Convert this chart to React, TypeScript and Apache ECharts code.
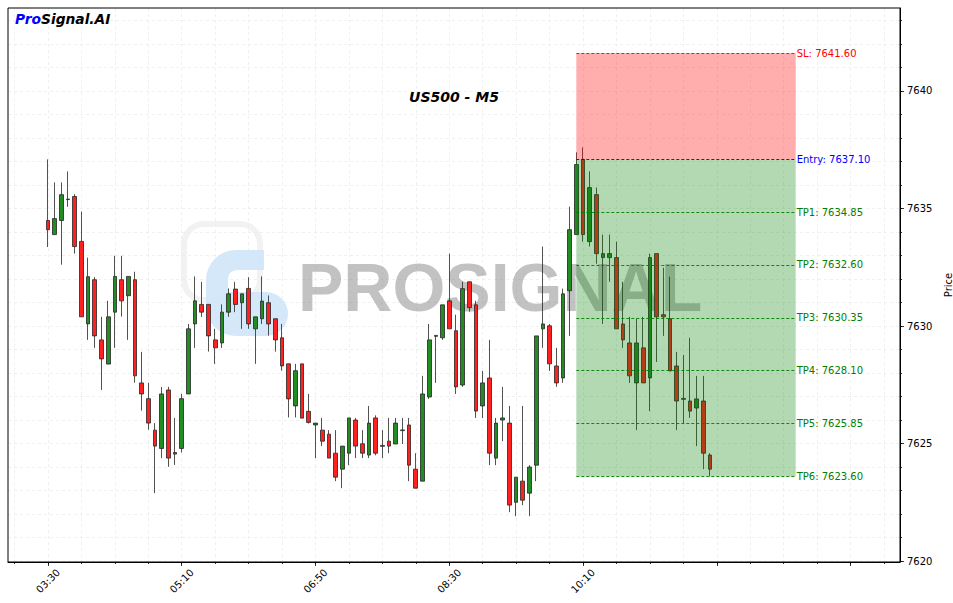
import React, { useEffect, useRef } from 'react';
import * as echarts from 'echarts';

// ---- data ----
const opens = [
  7634.49, 7633.89, 7634.49, 7635.40, 7635.51, 7633.60, 7630.09, 7631.97, 7629.41, 7628.38,
  7630.59, 7631.97, 7631.29, 7631.97, 7627.58, 7626.91, 7625.57, 7624.79, 7627.28, 7624.55,
  7624.79, 7627.11, 7630.09, 7630.92, 7630.92, 7629.41, 7629.28, 7630.59, 7631.57, 7630.99,
  7631.60, 7629.88, 7630.31, 7630.99, 7630.31, 7629.50, 7628.39, 7626.60, 7628.39, 7626.37,
  7625.79, 7625.57, 7625.40, 7624.59, 7623.91, 7624.59, 7626.00, 7624.99, 7624.51, 7626.09,
  7624.92, 7625.10, 7624.98, 7625.55, 7625.79, 7623.91, 7623.40, 7626.98, 7629.56, 7629.50,
  7631.07, 7629.80, 7627.49, 7631.88, 7630.90, 7626.60, 7627.79, 7624.38, 7626.00, 7625.87,
  7622.50, 7623.40, 7622.89, 7624.08, 7629.88, 7630.01, 7628.30, 7627.79, 7631.50, 7633.89,
  7637.09, 7633.59, 7635.59, 7632.91, 7632.91, 7632.91, 7630.09, 7629.28, 7627.58, 7629.07,
  7627.79, 7633.08, 7630.48, 7630.31, 7628.30, 7626.92, 7626.81, 7626.51, 7626.81, 7624.51,
];
const closes = [
  7634.10, 7634.57, 7635.59, 7635.38, 7633.38, 7630.39, 7632.10, 7629.58, 7628.60, 7630.39,
  7632.11, 7631.07, 7632.11, 7627.88, 7627.11, 7625.87, 7624.89, 7627.11, 7624.38, 7624.62,
  7626.91, 7629.88, 7631.07, 7630.59, 7629.58, 7629.07, 7630.59, 7631.37, 7630.92, 7631.37,
  7630.09, 7630.39, 7631.06, 7630.09, 7629.41, 7628.30, 7626.90, 7628.10, 7626.08, 7625.90,
  7625.87, 7625.10, 7624.38, 7623.57, 7624.89, 7626.09, 7624.89, 7624.59, 7625.87, 7624.59,
  7624.88, 7624.89, 7625.87, 7625.58, 7624.08, 7623.10, 7627.11, 7629.41, 7629.60, 7630.90,
  7629.88, 7627.41, 7631.59, 7630.78, 7626.38, 7627.58, 7624.59, 7625.87, 7626.09, 7622.38,
  7623.57, 7622.59, 7624.00, 7629.58, 7630.09, 7628.39, 7627.58, 7631.37, 7634.10, 7636.87,
  7633.89, 7635.89, 7633.08, 7633.08, 7633.08, 7629.88, 7629.41, 7627.88, 7629.28, 7627.58,
  7632.91, 7630.39, 7630.39, 7628.09, 7626.81, 7626.88, 7626.38, 7626.90, 7624.59, 7623.91,
];
const lows = [
  7633.36, 7633.89, 7632.61, 7635.07, 7633.08, 7630.39, 7629.41, 7629.07, 7627.28, 7628.38,
  7629.07, 7630.40, 7629.41, 7627.59, 7626.40, 7625.59, 7622.89, 7624.38, 7624.01, 7624.09,
  7624.62, 7627.11, 7629.07, 7630.39, 7628.91, 7628.39, 7629.07, 7630.39, 7630.59, 7629.88,
  7629.88, 7628.39, 7630.09, 7629.59, 7628.91, 7628.10, 7626.11, 7626.11, 7626.08, 7625.85,
  7624.38, 7624.89, 7624.38, 7623.40, 7623.10, 7624.08, 7624.38, 7624.38, 7624.38, 7624.50,
  7624.38, 7624.59, 7624.98, 7624.98, 7623.40, 7623.10, 7623.40, 7626.90, 7627.58, 7629.41,
  7629.88, 7627.11, 7627.41, 7630.61, 7626.09, 7626.09, 7624.08, 7624.08, 7625.10, 7622.08,
  7621.91, 7622.38, 7621.91, 7623.40, 7629.07, 7628.09, 7627.41, 7627.58, 7629.58, 7633.89,
  7633.59, 7633.38, 7632.65, 7630.09, 7631.88, 7629.88, 7629.07, 7627.58, 7625.57, 7627.58,
  7626.38, 7628.47, 7629.58, 7628.09, 7625.57, 7625.87, 7626.09, 7624.89, 7623.91, 7623.61,
];
const highs = [
  7637.09, 7636.11, 7636.11, 7636.58, 7635.61, 7634.87, 7632.91, 7632.08, 7630.39, 7631.07,
  7632.99, 7632.99, 7632.11, 7632.31, 7628.90, 7627.58, 7625.87, 7627.41, 7627.41, 7626.09,
  7627.11, 7630.09, 7632.11, 7631.88, 7630.92, 7629.88, 7630.92, 7631.60, 7631.88, 7631.37,
  7632.08, 7630.39, 7632.11, 7631.30, 7630.31, 7630.09, 7628.39, 7628.39, 7628.39, 7627.11,
  7625.87, 7626.09, 7625.57, 7625.57, 7624.89, 7626.09, 7626.09, 7625.57, 7626.60, 7626.20,
  7625.57, 7626.09, 7626.09, 7626.09, 7626.09, 7624.59, 7627.88, 7630.09, 7629.60, 7630.90,
  7633.08, 7630.48, 7631.88, 7631.88, 7631.07, 7628.09, 7629.41, 7626.09, 7627.41, 7626.60,
  7623.57, 7626.60, 7624.08, 7629.58, 7633.38, 7630.09, 7629.07, 7631.59, 7635.08, 7637.39,
  7637.60, 7636.58, 7635.89, 7633.89, 7633.89, 7633.59, 7631.88, 7630.39, 7630.31, 7630.39,
  7633.08, 7633.08, 7632.48, 7632.10, 7628.90, 7628.77, 7629.50, 7627.88, 7627.88, 7624.59,
];

const xLabelIdx = [0, 20, 40, 60, 80];
const xLabels = ['03:30', '05:10', '06:50', '08:30', '10:10'];
const yLabels = [7620, 7625, 7630, 7635, 7640];

const levelNames = ['SL', 'Entry', 'TP1', 'TP2', 'TP3', 'TP4', 'TP5', 'TP6'];
const levelValues = [7641.6, 7637.1, 7634.85, 7632.6, 7630.35, 7628.1, 7625.85, 7623.6];
const zoneStart = 79;
const zoneEnd = 111.8;

// ---- axis ranges ----
const X_MIN = -5.98;
const X_MAX = 127.4;
const Y_MIN = 7619.96;
const Y_MAX = 7643.53;

const FONT = '"DejaVu Sans", sans-serif';

const LOGO_D =
  'M 30 0 L 58 0 L 58 20 L 32 20 Q 22 20 22 30 L 22 42 L 60 42 A 22 22 0 0 1 60 86 L 30 86 A 30 30 0 0 1 0 56 L 0 30 A 30 30 0 0 1 30 0 Z';
echarts.graphic.registerShape('psLogo', echarts.graphic.extendPath(LOGO_D, {}));

function levelColor(name: string) {
  if (name === 'SL') return '#ff0000';
  if (name === 'Entry') return '#0000ff';
  return '#008000';
}

export default function App() {
  const ref = useRef<HTMLDivElement>(null);

  useEffect(() => {
    if (!ref.current) return;
    const chart = echarts.init(ref.current, undefined, { renderer: 'svg' });

    const data = opens.map((o, i) => [i, o, closes[i], lows[i], highs[i]]);

    const minorX: number[] = [];
    for (let v = -5; v <= 125; v += 5) minorX.push(v);
    const majorX: number[] = [];
    for (let v = 0; v <= 120; v += 20) majorX.push(v);
    const minorY: number[] = [];
    for (let v = 7620; v <= 7643; v += 1) minorY.push(v);

    const gridLine = { show: true, lineStyle: { color: '#ececec', width: 0.8, type: [3, 3] as any } };
    const tickFont = { fontSize: 10, color: '#000', fontFamily: FONT };

    const option: any = {
      animation: false,
      backgroundColor: '#fff',
      grid: { left: 8, top: 8, width: 892, height: 554, containLabel: false, outerBoundsMode: 'none' },
      xAxis: [
        {
          type: 'value', min: X_MIN, max: X_MAX, position: 'bottom',
          axisLine: { show: true, onZero: false, lineStyle: { color: '#000', width: 1 } },
          axisTick: { show: true, customValues: minorX, length: 2, lineStyle: { color: '#000', width: 0.8 } },
          axisLabel: {
            show: true, customValues: xLabelIdx, rotate: 45, align: 'center', verticalAlign: 'middle', margin: 19,
            formatter: (v: number) => { const k = xLabelIdx.indexOf(Math.round(v)); return k >= 0 ? xLabels[k] : ''; },
            ...tickFont,
          },
          splitLine: gridLine,
        },
        {
          type: 'value', min: X_MIN, max: X_MAX, position: 'bottom',
          axisLine: { show: false, onZero: false },
          axisTick: { show: true, customValues: majorX, length: 4, lineStyle: { color: '#000', width: 0.8 } },
          axisLabel: { show: false },
          splitLine: { show: false },
        },
      ],
      yAxis: [
        {
          type: 'value', min: Y_MIN, max: Y_MAX, position: 'right',
          axisLine: { show: true, onZero: false, lineStyle: { color: '#000', width: 1 } },
          axisTick: { show: true, customValues: minorY, length: 2, lineStyle: { color: '#000', width: 0.8 } },
          axisLabel: { show: true, customValues: yLabels, margin: 7, formatter: (v: number) => String(Math.round(v)), ...tickFont },
          splitLine: gridLine,
          name: 'Price', nameLocation: 'middle', nameGap: 32, nameRotate: 90,
          nameTextStyle: { fontSize: 10, color: '#000', fontFamily: FONT },
        },
        {
          type: 'value', min: Y_MIN, max: Y_MAX, position: 'right',
          axisLine: { show: false, onZero: false },
          axisTick: { show: true, customValues: yLabels, length: 4, lineStyle: { color: '#000', width: 0.8 } },
          axisLabel: { show: false },
          splitLine: { show: false },
        },
      ],
      series: [
        {
          type: 'candlestick',
          xAxisIndex: 0,
          yAxisIndex: 0,
          data,
          barWidth: 4.2,
          z: 2,
          itemStyle: {
            color: '#228b22', color0: '#ff2020',
            borderColor: '#262626', borderColor0: '#262626', borderWidth: 0.8,
          },
          markArea: {
            z: 3,
            silent: true,
            data: [
              [
                { coord: [zoneStart, levelValues[0]], itemStyle: { color: 'rgba(255,0,0,0.32)' } },
                { coord: [zoneEnd, levelValues[1]] },
              ],
              [
                { coord: [zoneStart, levelValues[1]], itemStyle: { color: 'rgba(0,128,0,0.3)' } },
                { coord: [zoneEnd, levelValues[levelValues.length - 1]] },
              ],
            ],
          },
          markLine: {
            z: 5,
            silent: true,
            symbol: ['none', 'none'],
            data: levelNames.map((n, k) => [
              {
                coord: [zoneStart, levelValues[k]],
                lineStyle: { color: levelColor(n), width: 0.9, type: [3, 2] },
                label: {
                  show: true, position: 'end', distance: 1,
                  formatter: `${n}: ${levelValues[k].toFixed(2)}`,
                  color: levelColor(n), fontSize: 10, fontFamily: FONT,
                },
              },
              { coord: [zoneEnd, levelValues[k]] },
            ]),
          },
        },
      ],
      graphic: [
        {
          type: 'rect', z: 0, silent: true,
          shape: { x: 184, y: 224, width: 76, height: 76, r: 20 },
          style: { fill: 'none', stroke: '#f2f2f2', lineWidth: 6 },
        },
        {
          type: 'psLogo', z: 1, silent: true, x: 206, y: 250,
          style: { fill: '#cfe6fa', opacity: 0.9 },
        },
        {
          type: 'text', z: 1, silent: true, x: 298, y: 287,
          style: {
            text: 'PROSIGNAL', font: 'bold 68px "Liberation Sans", sans-serif',
            fill: 'rgba(128,128,128,0.48)', verticalAlign: 'middle', align: 'left',
          },
        },
        {
          type: 'rect', z: 10, silent: true,
          shape: { x: 8, y: 8, width: 892, height: 554 },
          style: { fill: 'none', stroke: '#000', lineWidth: 1 },
        },
        {
          type: 'text', z: 10, silent: true, x: 454, y: 97,
          style: {
            text: 'US500 - M5', font: 'italic bold 14px "DejaVu Sans", sans-serif',
            fill: '#000', align: 'center', verticalAlign: 'middle',
          },
        },
        {
          type: 'text', z: 10, silent: true, x: 15, y: 19,
          style: {
            text: '{a|Pro}{b|Signal.AI}',
            verticalAlign: 'middle',
            rich: {
              a: { fill: '#0000ff', font: 'italic bold 13.8px "DejaVu Sans", sans-serif' },
              b: { fill: '#000000', font: 'italic bold 13.8px "DejaVu Sans", sans-serif' },
            },
          },
        },
      ],
    };

    chart.setOption(option);
    return () => chart.dispose();
  }, []);

  return (
    <div
      ref={ref}
      style={{ position: 'fixed', left: 0, top: 0, width: 953, height: 603, background: '#fff' }}
    />
  );
}
